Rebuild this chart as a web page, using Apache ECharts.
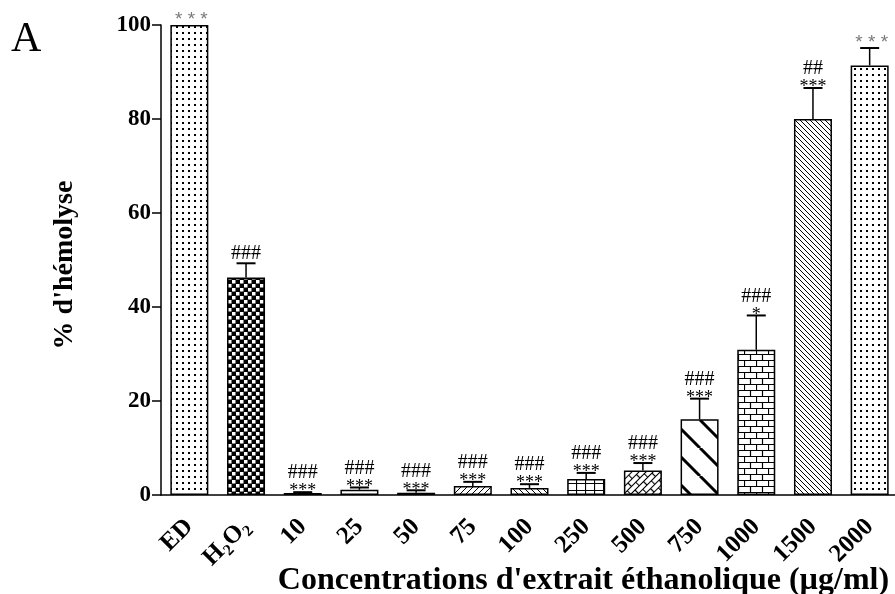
<!DOCTYPE html>
<html>
<head>
<meta charset="utf-8">
<script src="https://cdn.jsdelivr.net/npm/echarts@6/dist/echarts.min.js"></script>
<style>
  html, body { margin: 0; padding: 0; background: #fff; }
  #chart { width: 895px; height: 594px; }
</style>
</head>
<body>
<div id="chart"></div>
<script>
// Haemolysis (%) for controls and ethanolic extract concentrations (µg/ml)
const categories = ['ED', 'H2O2', '10', '25', '50', '75', '100', '250', '500', '750', '1000', '1500', '2000'];
const hemolysis  = [100, 46.3, 0.4, 1.1, 0.5, 1.9, 1.5, 3.4, 5.2, 16.1, 30.9, 80.0, 91.4];
const errors     = [0, 3.0, 0.2, 0.5, 0.5, 0.9, 0.8, 1.3, 1.6, 4.4, 7.3, 6.6, 3.7];
const starMarks  = ['***', '', '***', '***', '***', '***', '***', '***', '***', '***', '*', '***', '***'];
const hashMarks  = ['', '###', '###', '###', '###', '###', '###', '###', '###', '###', '###', '##', ''];
const yTicks     = [0, 20, 40, 60, 80, 100];

const SERIF = '"Liberation Serif", "Times New Roman", serif';

// ---- fill patterns (one per bar) ----
function tile(w, h, draw) {
  const c = document.createElement('canvas');
  c.width = w; c.height = h;
  const ctx = c.getContext('2d');
  ctx.fillStyle = '#fff';
  ctx.fillRect(0, 0, w, h);
  ctx.strokeStyle = '#000';
  ctx.fillStyle = '#000';
  draw(ctx, w, h);
  return c;
}
function pattern(canvas, extra) {
  return Object.assign({ image: canvas, repeat: 'repeat' }, extra || {});
}
function hatch(p, lw, back) {
  return tile(p, p, (ctx) => {
    ctx.lineWidth = lw;
    ctx.beginPath();
    for (let k = -1; k <= 1; k++) {
      if (back) { ctx.moveTo(k * p, 0); ctx.lineTo(k * p + p, p); }
      else { ctx.moveTo(k * p, p); ctx.lineTo(k * p + p, 0); }
    }
    ctx.stroke();
  });
}
const dots = tile(6, 6, (ctx) => { ctx.fillRect(2, 2, 2, 2); });
const checker = tile(8, 8, (ctx) => {
  ctx.fillRect(0, 0, 8, 8);
  ctx.fillStyle = '#fff';
  ctx.fillRect(0, 0, 3.5, 3.5);
  ctx.fillRect(4, 4, 3.5, 3.5);
});
const gridSq = tile(9, 7.5, (ctx) => {
  ctx.lineWidth = 1.2;
  ctx.beginPath();
  ctx.moveTo(0.5, 0); ctx.lineTo(0.5, 8);
  ctx.moveTo(0, 0.5); ctx.lineTo(9, 0.5);
  ctx.stroke();
});
const brick = tile(12, 12, (ctx) => {
  ctx.lineWidth = 1.2;
  ctx.beginPath();
  ctx.moveTo(0, 0.5); ctx.lineTo(12, 0.5);
  ctx.moveTo(0, 6.5); ctx.lineTo(12, 6.5);
  ctx.moveTo(0.5, 0); ctx.lineTo(0.5, 6.5);
  ctx.moveTo(6.5, 6.5); ctx.lineTo(6.5, 12);
  ctx.stroke();
});
const herring = tile(12, 10, (ctx) => {
  ctx.lineWidth = 1.2;
  ctx.beginPath();
  ctx.moveTo(0, 0.5); ctx.lineTo(12, 0.5);
  ctx.moveTo(0, 5.5); ctx.lineTo(12, 5.5);
  ctx.moveTo(0.5, 0); ctx.lineTo(0.5, 5.5);
  ctx.moveTo(6.5, 5.5); ctx.lineTo(6.5, 10);
  ctx.stroke();
});

const fills = [
  pattern(dots),                                   // ED
  pattern(checker),                                // H2O2
  '#fff',                                          // 10
  '#fff',                                          // 25
  '#fff',                                          // 50
  pattern(hatch(6, 1, false)),                     // 75
  pattern(hatch(6, 1, true)),                      // 100
  pattern(gridSq),                                 // 250
  pattern(herring, { rotation: -Math.PI / 4 }),    // 500
  pattern(hatch(28, 3, true)),                     // 750
  pattern(brick),                                  // 1000
  pattern(hatch(5, 1, true)),                      // 1500
  pattern(dots)                                    // 2000
];

const barData = hemolysis.map((v, i) => ({ value: v, itemStyle: { color: fills[i] } }));
const errData = hemolysis.map((v, i) => [i, v, errors[i]]);

// error bars (upper half) with significance marks above them
function renderErr(params, api) {
  const i = api.value(0), v = api.value(1), e = api.value(2);
  const top = api.coord([i, v]);
  const cap = api.coord([i, v + e]);
  const x = top[0];
  const children = [];
  if (e > 0) {
    children.push({ type: 'line', shape: { x1: x, y1: top[1], x2: x, y2: cap[1] },
      style: { stroke: '#000', lineWidth: 1.5 } });
    children.push({ type: 'line', shape: { x1: x - 9.5, y1: cap[1], x2: x + 9.5, y2: cap[1] },
      style: { stroke: '#000', lineWidth: 2 } });
  }
  const stars = starMarks[i], hashes = hashMarks[i];
  if (stars && hashes) {
    children.push({ type: 'text', x: x, y: cap[1] - 0.5,
      style: { text: stars, fontFamily: SERIF, fontSize: 18, fill: '#000', align: 'center', verticalAlign: 'middle' } });
    children.push({ type: 'text', x: x, y: cap[1] - 19,
      style: { text: hashes, fontFamily: SERIF, fontSize: 20, fill: '#000', align: 'center', verticalAlign: 'middle' } });
  } else if (hashes) {
    children.push({ type: 'text', x: x, y: cap[1] - 10,
      style: { text: hashes, fontFamily: SERIF, fontSize: 20, fill: '#000', align: 'center', verticalAlign: 'middle' } });
  } else if (stars) {
    children.push({ type: 'text', x: x + 2, y: cap[1] - 5,
      style: { text: stars.split('').join(' '), fontFamily: '"Liberation Sans", Arial, sans-serif',
        fontSize: 19, fill: '#7a7a7a', align: 'center', verticalAlign: 'middle' } });
  }
  return { type: 'group', children: children };
}

const chart = echarts.init(document.getElementById('chart'), null, { renderer: 'canvas' });
chart.setOption({
  backgroundColor: '#fff',
  animation: false,
  grid: { left: 161, top: 25, width: 737, bottom: 99, containLabel: false, outerBoundsMode: 'none' },
  graphic: [{
    type: 'text', left: 11, top: 19,
    style: { text: 'A', fontFamily: SERIF, fontSize: 42, fill: '#000' }
  }],
  xAxis: {
    type: 'category',
    data: categories,
    name: "Concentrations d'extrait éthanolique (µg/ml)",
    nameLocation: 'middle',
    nameGap: 70,
    nameMoveOverlap: false,
    nameTextStyle: { fontFamily: SERIF, fontWeight: 'bold', fontSize: 32, color: '#000', padding: [0, 0, 0, 108] },
    axisLine: { lineStyle: { color: '#000', width: 1.5 } },
    axisTick: { alignWithLabel: true, length: 10, lineStyle: { color: '#000', width: 1.5 } },
    axisLabel: {
      rotate: 45, margin: 28, interval: 0,
      fontFamily: SERIF, fontWeight: 'bold', fontSize: 25, color: '#000',
      formatter: (v) => v === 'H2O2' ? '{n|H}{s|2}{n|O}{s|2}' : '{n|' + v + '}',
      rich: {
        n: { fontFamily: SERIF, fontWeight: 'bold', fontSize: 25, lineHeight: 25, verticalAlign: 'top', color: '#000' },
        s: { fontFamily: SERIF, fontWeight: 'bold', fontSize: 16, lineHeight: 16, verticalAlign: 'top', padding: [12, 0, 0, 0], color: '#000' }
      }
    },
    splitLine: { show: false }
  },
  yAxis: {
    type: 'value',
    min: yTicks[0], max: yTicks[yTicks.length - 1], interval: yTicks[1] - yTicks[0],
    name: "% d'hémolyse",
    nameLocation: 'middle',
    nameGap: 82,
    nameMoveOverlap: false,
    nameTextStyle: { fontFamily: SERIF, fontWeight: 'bold', fontSize: 28, color: '#000', padding: [0, 10, 0, 0] },
    axisLine: { show: true, lineStyle: { color: '#000', width: 1.5 } },
    axisTick: { show: true, length: 9, lineStyle: { color: '#000', width: 1.5 } },
    axisLabel: { margin: 10, fontFamily: SERIF, fontWeight: 'bold', fontSize: 23, color: '#000' },
    splitLine: { show: false }
  },
  series: [
    {
      type: 'bar',
      data: barData,
      barWidth: 38,
      itemStyle: { borderColor: '#000', borderWidth: 1.5 },
      z: 2
    },
    {
      type: 'custom',
      data: errData,
      encode: { x: 0, y: 1 },
      renderItem: renderErr,
      clip: false,
      z: 3
    }
  ]
});
</script>
</body>
</html>
